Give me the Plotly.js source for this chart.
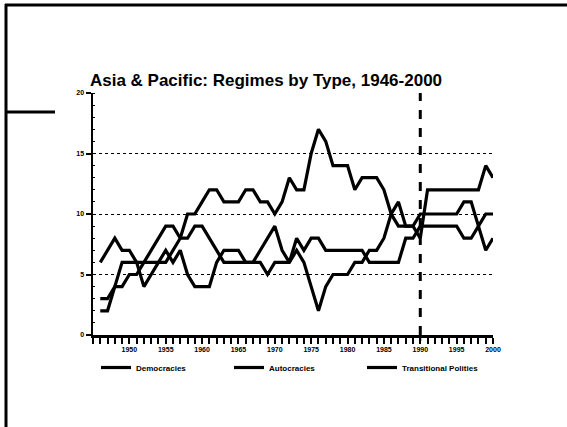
<!DOCTYPE html>
<html>
<head>
<meta charset="utf-8">
<script src="https://cdn.plot.ly/plotly-3.0.1.min.js"></script>
<style>
html,body{margin:0;padding:0;background:#fff;}
#chart{width:567px;height:427px;}
</style>
</head>
<body>
<div id="chart"></div>
<script>
const years = [1946,1947,1948,1949,1950,1951,1952,1953,1954,1955,
  1956,1957,1958,1959,1960,1961,1962,1963,1964,1965,
  1966,1967,1968,1969,1970,1971,1972,1973,1974,1975,
  1976,1977,1978,1979,1980,1981,1982,1983,1984,1985,
  1986,1987,1988,1989,1990,1991,1992,1993,1994,1995,
  1996,1997,1998,1999,2000];
const democracies = [3,3,4,4,5,5,6,7,8,9,
  9,8,8,9,9,8,7,6,6,6,
  6,6,6,5,6,6,6,7,6,4,
  2,4,5,5,5,6,6,7,7,8,
  10,11,9,9,8,12,12,12,12,12,
  12,12,12,14,13];
const autocracies = [6,7,8,7,7,6,4,5,6,6,
  7,8,10,10,11,12,12,11,11,11,
  12,12,11,11,10,11,13,12,12,15,
  17,16,14,14,14,12,13,13,13,12,
  10,9,9,9,10,10,10,10,10,10,
  11,11,9,7,8];
const transitional = [2,2,4,6,6,6,6,6,6,7,
  6,7,5,4,4,4,6,7,7,7,
  6,6,7,8,9,7,6,8,7,8,
  8,7,7,7,7,7,7,6,6,6,
  6,6,8,8,9,9,9,9,9,9,
  8,8,9,10,10];
const seriesNames = ["Democracies", "Autocracies", "Transitional Polities"];
const xTickVals = [1950,1955,1960,1965,1970,1975,1980,1985,1990,1995,2000];
const yTickVals = [0,5,10,15,20];
const markerYear = 1990;

const lineStyle = {color:'#000', width:3.2};
const traces = [democracies, autocracies, transitional].map((v,i)=>({
  type:'scatter', mode:'lines', x:years, y:v, name:seriesNames[i],
  line:lineStyle, hoverinfo:'skip'
}));

// plot area in px: left 93, right 493, top 93, bottom 335
const L=93, R=493, T=93, B=335, W=567, H=427;
const px = x => (x-L)/(R-L);
const py = y => (B-y)/(B-T);

const layout = {
  width:W, height:H,
  margin:{l:L, r:W-R, t:T, b:H-B, pad:0},
  paper_bgcolor:'#fff', plot_bgcolor:'#fff',
  showlegend:true,
  title:{text:'Asia &amp; Pacific: Regimes by Type, 1946-2000',
    font:{family:'Liberation Sans, Arial, sans-serif', size:17, color:'#000', weight:'bold'},
    x:px(266), xref:'paper', xanchor:'center', y:1-80/H, yref:'container', yanchor:'middle'},
  xaxis:{range:[1945,2000], tickvals:xTickVals, ticktext:xTickVals.map(String),
    showgrid:false, zeroline:false, showline:true, linecolor:'#000', linewidth:2.5,
    ticks:'outside', ticklen:6, tickwidth:2, tickcolor:'#000',
    minor:{dtick:1, tick0:1945, ticks:'outside', ticklen:6, tickwidth:2, tickcolor:'#000', showgrid:false},
    tickfont:{family:'Liberation Sans, Arial, sans-serif', size:7, color:'#000', weight:'bold'},
    fixedrange:true},
  yaxis:{range:[0,20], tickvals:yTickVals, ticktext:yTickVals.map(String),
    showgrid:true, gridcolor:'#000', gridwidth:1, griddash:'dot',
    zeroline:false, showline:true, linecolor:'#000', linewidth:2.5,
    ticks:'outside', ticklen:5, tickwidth:2, tickcolor:'#000',
    minor:{dtick:1, ticks:'inside', ticklen:2, tickwidth:1, tickcolor:'#000', showgrid:false},
    tickfont:{family:'Liberation Sans, Arial, sans-serif', size:7, color:'#000', weight:'bold'},
    fixedrange:true},
  legend:{orientation:'h', x:px(96), xanchor:'left', y:py(353), yanchor:'top',
    entrywidth:88, entrywidthmode:'pixels', bgcolor:'rgba(0,0,0,0)',
    font:{family:'Liberation Sans, Arial, sans-serif', size:8, color:'#000', weight:'bold'},
    itemwidth:30, tracegroupgap:0},
  shapes:[
    {type:'line', xref:'x', yref:'y', x0:markerYear, x1:markerYear, y0:0, y1:20,
      line:{color:'#000', width:3, dash:'dash'}},
    {type:'line', xref:'x', yref:'paper', x0:markerYear, x1:markerYear, y0:0, y1:py(341),
      line:{color:'#000', width:2}},
    {type:'line', xref:'paper', yref:'paper', x0:px(5), x1:px(567), y0:py(5), y1:py(5),
      line:{color:'#000', width:3}},
    {type:'line', xref:'paper', yref:'paper', x0:px(6), x1:px(6), y0:py(4), y1:py(427),
      line:{color:'#000', width:3}},
    {type:'line', xref:'paper', yref:'paper', x0:px(6), x1:px(55), y0:py(112), y1:py(112),
      line:{color:'#000', width:3}}
  ]
};

Plotly.newPlot('chart', traces, layout, {staticPlot:true, displayModeBar:false});
</script>
</body>
</html>
